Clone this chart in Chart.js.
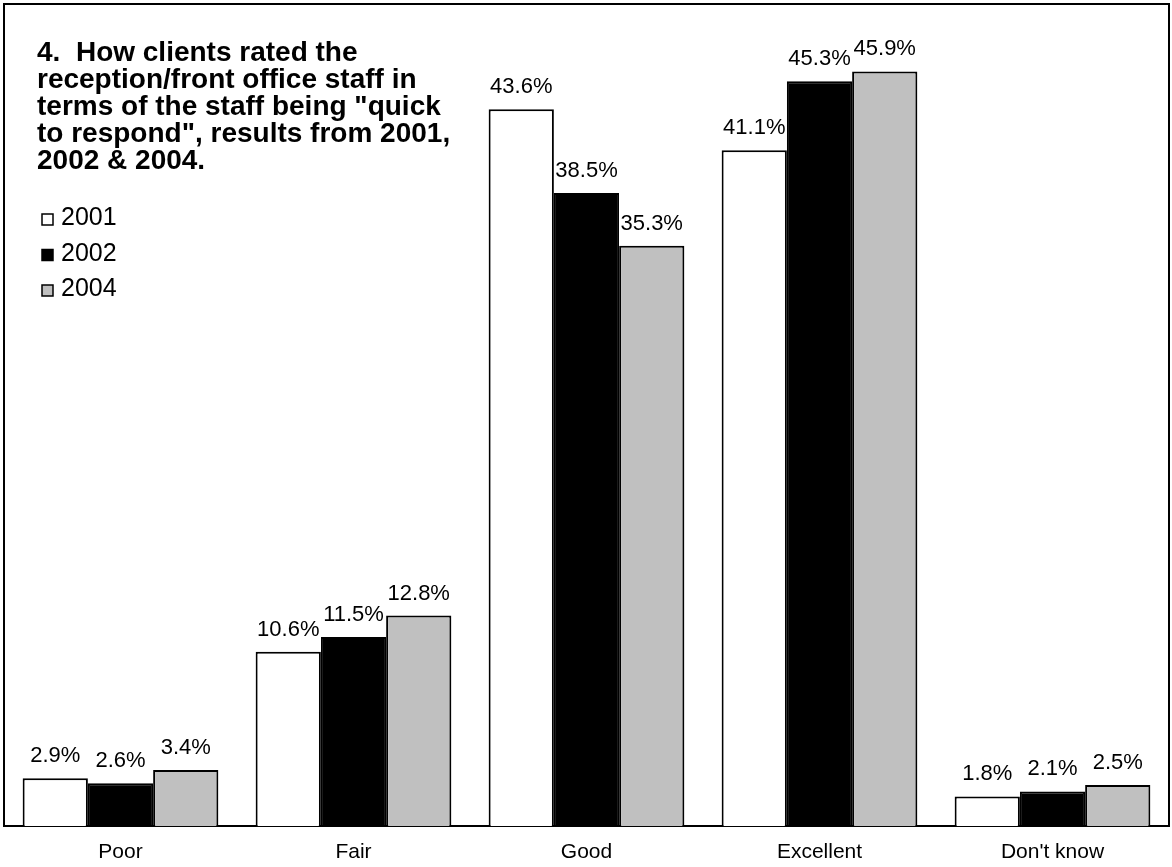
<!DOCTYPE html>
<html>
<head>
<meta charset="utf-8">
<script src="https://cdn.jsdelivr.net/npm/chart.js@4.4.1/dist/chart.umd.min.js"></script>
<style>
  body { margin: 0; background: #fff; }
  canvas { display: block; }
</style>
</head>
<body>
<canvas id="grafica" width="1172" height="867"></canvas>
<script>
// categorías y valores por año (porcentajes)
const categorias = ['Poor', 'Fair', 'Good', 'Excellent', "Don't know"];
const anios = ['2001', '2002', '2004'];
const valores2001 = [2.9, 10.6, 43.6, 41.1, 1.8];
const valores2002 = [2.6, 11.5, 38.5, 45.3, 2.1];
const valores2004 = [3.4, 12.8, 35.3, 45.9, 2.5];
const colores = ['#ffffff', '#000000', '#c0c0c0'];

const titulo = [
  '4.  How clients rated the',
  'reception/front office staff in',
  'terms of the staff being "quick',
  'to respond", results from 2001,',
  '2002 & 2004.'
];

const fuente = "'Liberation Sans', Arial, sans-serif";

// marco del área de la gráfica (arriba, izquierda, derecha)
const marco = {
  id: 'marco',
  afterDraw(chart) {
    const { ctx, chartArea: a } = chart;
    ctx.save();
    ctx.strokeStyle = '#000';
    ctx.lineWidth = 2;
    ctx.beginPath();
    ctx.moveTo(a.left, a.bottom);
    ctx.lineTo(a.left, a.top);
    ctx.lineTo(a.right, a.top);
    ctx.lineTo(a.right, a.bottom);
    ctx.stroke();
    ctx.restore();
  }
};

// etiquetas con el valor encima de cada barra
const etiquetasValor = {
  id: 'etiquetasValor',
  afterDatasetsDraw(chart) {
    const ctx = chart.ctx;
    ctx.save();
    ctx.font = '22px ' + fuente;
    ctx.fillStyle = '#000';
    ctx.textAlign = 'center';
    ctx.textBaseline = 'alphabetic';
    chart.data.datasets.forEach((ds, i) => {
      chart.getDatasetMeta(i).data.forEach((barra, j) => {
        ctx.fillText(ds.data[j].toFixed(1) + '%', barra.x, barra.y - 16);
      });
    });
    ctx.restore();
  }
};

// título y leyenda dentro del área de la gráfica
const tituloLeyenda = {
  id: 'tituloLeyenda',
  afterDraw(chart) {
    const ctx = chart.ctx;
    ctx.save();
    ctx.fillStyle = '#000';
    ctx.textAlign = 'left';
    ctx.textBaseline = 'alphabetic';
    ctx.font = 'bold 28px ' + fuente;
    titulo.forEach((linea, i) => {
      ctx.fillText(linea, 37, 61 + i * 27);
    });

    ctx.font = '25px ' + fuente;
    chart.data.datasets.forEach((ds, i) => {
      const base = 225 + i * 35.5;
      ctx.fillStyle = ds.backgroundColor;
      ctx.fillRect(42, base - 11, 11, 11);
      ctx.strokeStyle = '#000';
      ctx.lineWidth = 1.5;
      ctx.strokeRect(42, base - 11, 11, 11);
      ctx.fillStyle = '#000';
      ctx.fillText(ds.label, 61, base);
    });
    ctx.restore();
  }
};

const series = [valores2001, valores2002, valores2004];

new Chart(document.getElementById('grafica'), {
  type: 'bar',
  data: {
    labels: categorias,
    datasets: anios.map((anio, i) => ({
      label: anio,
      data: series[i],
      backgroundColor: colores[i],
      borderColor: '#000',
      borderWidth: 2,
      categoryPercentage: 0.84,
      barPercentage: 1.0
    }))
  },
  options: {
    responsive: false,
    animation: false,
    layout: { padding: { left: 4, right: 3, top: 4, bottom: 0 } },
    plugins: {
      legend: { display: false },
      tooltip: { enabled: false }
    },
    scales: {
      y: { display: false, min: 0, max: 50 },
      x: {
        grid: { display: false, drawTicks: false },
        border: { display: true, color: '#000', width: 2 },
        ticks: {
          color: '#000',
          padding: 14,
          font: { family: fuente, size: 21 }
        },
        // alto fijo de la franja de categorías
        afterFit(scale) {
          scale.height = 41;
        }
      }
    }
  },
  plugins: [marco, etiquetasValor, tituloLeyenda]
});
</script>
</body>
</html>
